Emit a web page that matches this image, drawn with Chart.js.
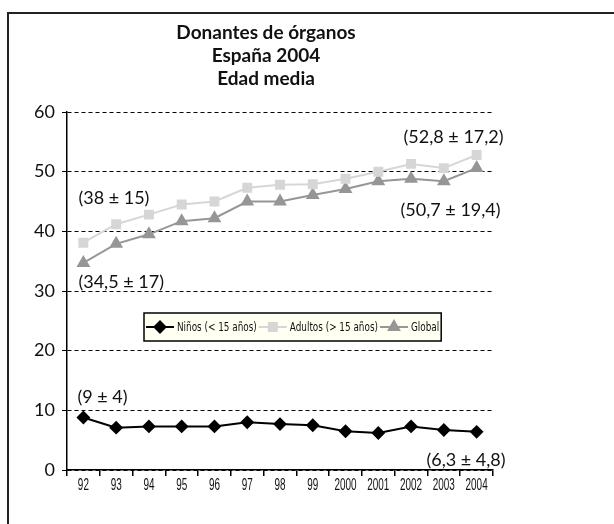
<!DOCTYPE html>
<html>
<head>
<meta charset="utf-8">
<script src="https://cdn.jsdelivr.net/npm/chart.js@4.4.1/dist/chart.umd.min.js"></script>
<style>
    html, body { margin: 0; padding: 0; background: #fff; }
    #wrap { position: relative; width: 614px; height: 524px; overflow: hidden; }
    #frame {
        position: absolute; left: 7px; top: 12px; width: 700px; height: 600px;
        border-left: 2px solid #222; border-top: 2px solid #222;
    }
    #chart { position: absolute; left: 0; top: 0; }
</style>
</head>
<body>
<div id="wrap">
    <div id="frame"></div>
    <canvas id="chart" width="614" height="524"></canvas>
</div>
<script>
// Data
const years = ['92', '93', '94', '95', '96', '97', '98', '99', '2000', '2001', '2002', '2003', '2004'];
const ninos = [8.8, 7.1, 7.3, 7.3, 7.3, 8.0, 7.7, 7.5, 6.5, 6.2, 7.3, 6.7, 6.4];
const adultos = [38.1, 41.2, 42.8, 44.5, 45.0, 47.3, 47.8, 47.9, 48.8, 50.0, 51.3, 50.6, 52.8];
const global = [34.7, 37.9, 39.5, 41.7, 42.2, 45.0, 45.0, 46.1, 47.1, 48.4, 48.8, 48.4, 50.6];
const yTicks = [0, 10, 20, 30, 40, 50, 60];
const seriesNames = ['Niños (< 15 años)', 'Adultos (> 15 años)', 'Global'];
const titleLines = ['Donantes de órganos', 'España 2004', 'Edad media'];
const noteTexts = ['(9 ± 4)', '(6,3 ± 4,8)', '(38 ± 15)', '(52,8 ± 17,2)', '(34,5 ± 17)', '(50,7 ± 19,4)'];

// where each note sits relative to its point
const notePlaces = [
    { ds: 0, i: 0, align: 'left', dx: -6, dy: -20 },
    { ds: 0, i: 12, align: 'right', dx: 29, dy: 28 },
    { ds: 1, i: 0, align: 'left', dx: -5, dy: -44 },
    { ds: 1, i: 12, align: 'right', dx: 27, dy: -18 },
    { ds: 2, i: 0, align: 'left', dx: -5, dy: 19 },
    { ds: 2, i: 12, align: 'right', dx: 24, dy: 42 }
];

// Title, centred a bit left of the plot centre like the original
const titlePlugin = {
    id: 'bigTitle',
    afterDraw(chart) {
        const ctx = chart.ctx;
        const area = chart.chartArea;
        const cx = (area.left + area.right) / 2 - 14;
        ctx.save();
        ctx.font = 'bold 19px Lato';
        ctx.fillStyle = '#111';
        ctx.textAlign = 'center';
        ctx.textBaseline = 'middle';
        titleLines.forEach((t, k) => {
            ctx.fillText(t, cx, area.top - 79 + k * 23);
        });
        ctx.restore();
    }
};

// Narrow year labels under the x axis
const yearLabels = {
    id: 'yearLabels',
    afterDraw(chart) {
        const ctx = chart.ctx;
        const xs = chart.scales.x;
        ctx.save();
        ctx.font = '16px "Liberation Sans", sans-serif';
        ctx.fillStyle = '#111';
        ctx.textAlign = 'center';
        ctx.textBaseline = 'middle';
        xs.ticks.forEach((t, i) => {
            ctx.save();
            ctx.translate(xs.getPixelForTick(i), xs.top + 16);
            ctx.scale(0.62, 1);
            ctx.fillText(years[i], 0, 0);
            ctx.restore();
        });
        ctx.restore();
    }
};

const notesPlugin = {
    id: 'notes',
    afterDatasetsDraw(chart) {
        const ctx = chart.ctx;
        ctx.save();
        ctx.font = '18px Lato';
        ctx.fillStyle = '#111';
        ctx.textBaseline = 'middle';
        notePlaces.forEach((p, k) => {
            const pt = chart.getDatasetMeta(p.ds).data[p.i];
            ctx.textAlign = p.align;
            ctx.fillText(noteTexts[k], pt.x + p.dx, pt.y + p.dy);
        });
        ctx.restore();
    }
};

// Legend box inside the plot
const boxLegend = {
    id: 'boxLegend',
    afterDatasetsDraw(chart) {
        const ctx = chart.ctx;
        const area = chart.chartArea;
        const left = area.left + 77;
        const top = area.top + 201;
        const h = 28;
        const cy = top + h / 2;
        const squeeze = 0.82;
        ctx.save();
        ctx.font = '12px "DejaVu Sans Condensed", sans-serif';
        let x = left + 2;
        const items = chart.data.datasets.map((ds, k) => {
            const w = ctx.measureText(seriesNames[k]).width * squeeze;
            const it = { ds, x, w };
            x += 28 + 3 + w + 2;
            return it;
        });
        const right = x;
        ctx.fillStyle = '#fffff2';
        ctx.fillRect(left, top, right - left, h);
        ctx.strokeStyle = '#000';
        ctx.lineWidth = 1.5;
        ctx.strokeRect(left, top, right - left, h);
        items.forEach((it, k) => {
            ctx.strokeStyle = it.ds.borderColor;
            ctx.lineWidth = 2;
            ctx.beginPath();
            ctx.moveTo(it.x, cy);
            ctx.lineTo(it.x + 28, cy);
            ctx.stroke();
            Chart.helpers.drawPoint(ctx, {
                pointStyle: it.ds.pointStyle,
                radius: it.ds.pointRadius,
                borderWidth: 1
            }, it.x + 14, cy);
            ctx.fillStyle = it.ds.borderColor;
            ctx.fill();
            ctx.save();
            ctx.translate(it.x + 31, cy + 1);
            ctx.scale(squeeze, 1);
            ctx.fillStyle = '#111';
            ctx.textAlign = 'left';
            ctx.textBaseline = 'middle';
            ctx.fillText(seriesNames[k], 0, 0);
            ctx.restore();
        });
        ctx.restore();
    }
};

function makeSet(label, data, color, style, r) {
    return {
        label: label,
        data: data,
        borderColor: color,
        backgroundColor: color,
        pointBackgroundColor: color,
        pointBorderColor: color,
        borderWidth: 2,
        pointStyle: style,
        pointRadius: r,
        pointHoverRadius: r,
        tension: 0
    };
}

new Chart(document.getElementById('chart').getContext('2d'), {
    type: 'line',
    data: {
        labels: years,
        datasets: [
            makeSet(seriesNames[0], ninos, '#000000', 'rectRot', 5.5),
            makeSet(seriesNames[1], adultos, '#d6d6d6', 'rect', 5.6),
            makeSet(seriesNames[2], global, '#969696', 'triangle', 6)
        ]
    },
    options: {
        responsive: false,
        animation: false,
        layout: { padding: { left: 17, right: 121, top: 112, bottom: 24 } },
        plugins: {
            legend: { display: false },
            tooltip: { enabled: false },
            title: { display: false }
        },
        scales: {
            x: {
                offset: true,
                grid: { drawOnChartArea: false, drawTicks: true, tickLength: 6, offset: true, color: '#000', lineWidth: 1.5 },
                border: { color: '#000', width: 1.5 },
                ticks: { display: false, autoSkip: false },
                afterFit(scale) { scale.height = 30; }
            },
            y: {
                min: 0,
                max: 60,
                afterBuildTicks(scale) { scale.ticks = yTicks.map(v => ({ value: v })); },
                grid: { color: '#000', lineWidth: 1, tickLength: 5 },
                border: { color: '#000', width: 1.5, dash: [4, 3] },
                ticks: {
                    color: '#111',
                    padding: 7,
                    font: { family: 'Lato', size: 18 }
                },
                afterFit(scale) { scale.width = 50; }
            }
        }
    },
    plugins: [titlePlugin, yearLabels, notesPlugin, boxLegend]
});
</script>
</body>
</html>
